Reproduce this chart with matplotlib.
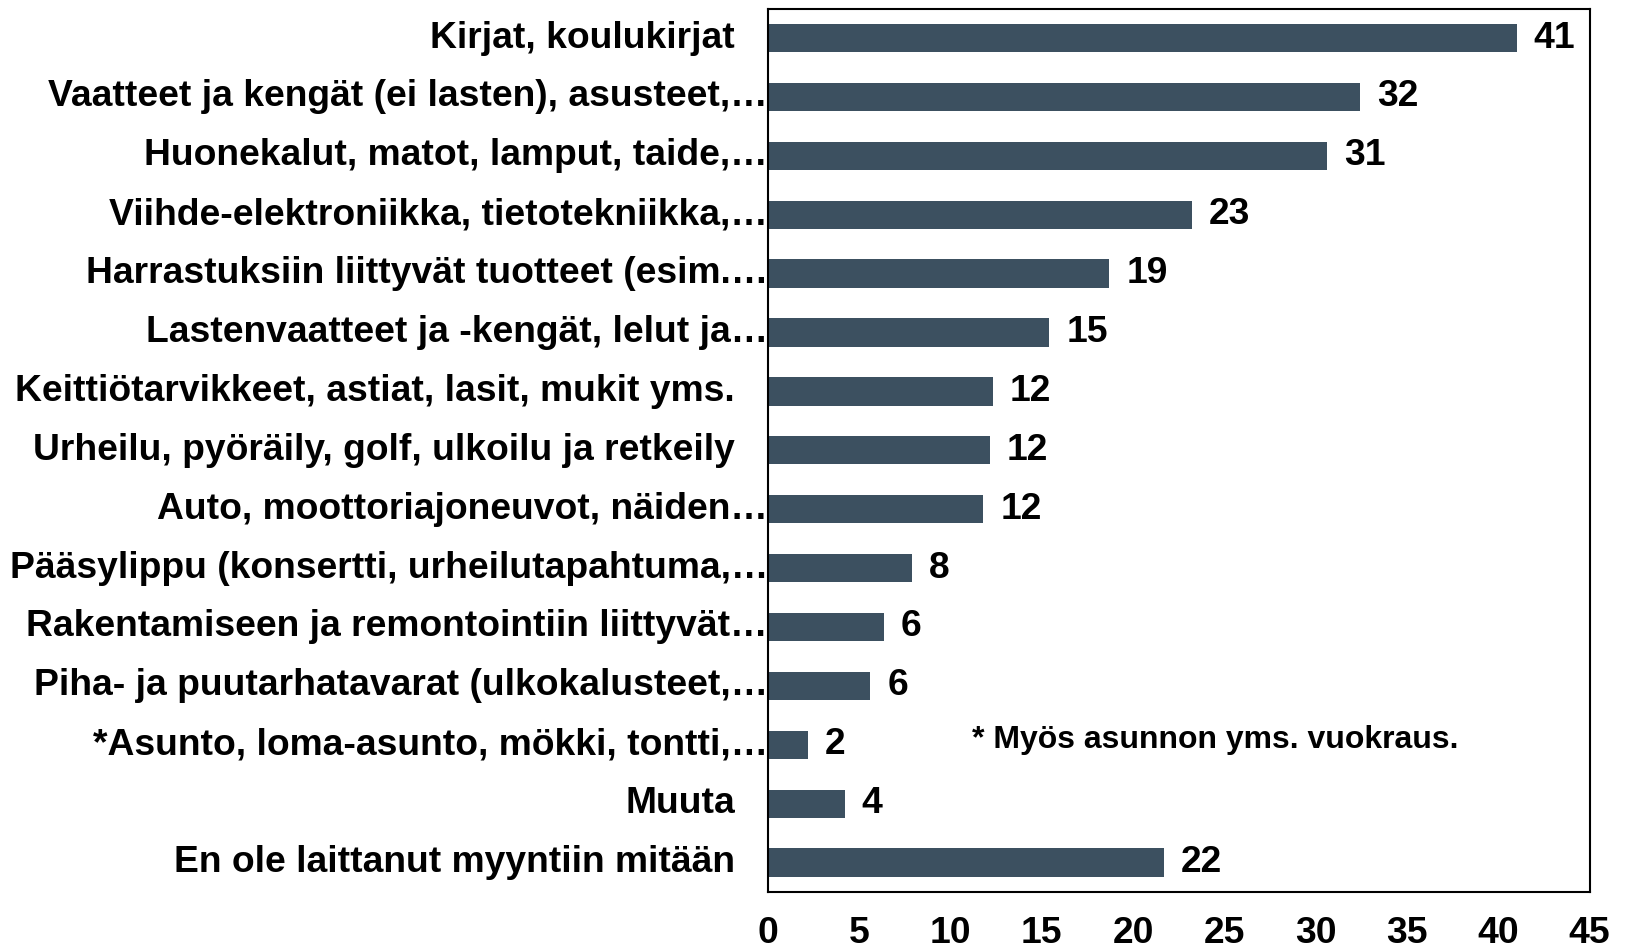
import numpy as np
import matplotlib.pyplot as plt

plt.rcParams['font.family'] = ['Liberation Sans', 'DejaVu Sans']

categories = [
    "Kirjat, koulukirjat",
    "Vaatteet ja kengät (ei lasten), asusteet,…",
    "Huonekalut, matot, lamput, taide,…",
    "Viihde-elektroniikka, tietotekniikka,…",
    "Harrastuksiin liittyvät tuotteet (esim.…",
    "Lastenvaatteet ja -kengät, lelut ja…",
    "Keittiötarvikkeet, astiat, lasit, mukit yms.",
    "Urheilu, pyöräily, golf, ulkoilu ja retkeily",
    "Auto, moottoriajoneuvot, näiden…",
    "Pääsylippu (konsertti, urheilutapahtuma,…",
    "Rakentamiseen ja remontointiin liittyvät…",
    "Piha- ja puutarhatavarat (ulkokalusteet,…",
    "*Asunto, loma-asunto, mökki, tontti,…",
    "Muuta",
    "En ole laittanut myyntiin mitään",
]
# shares in % (labels show them rounded)
values = [41.0, 32.45, 30.6, 23.2, 18.7, 15.4, 12.3, 12.15, 11.8,
          7.9, 6.35, 5.6, 2.2, 4.2, 21.7]
xticks = [0, 5, 10, 15, 20, 25, 30, 35, 40, 45]
footnote = "* Myös asunnon yms. vuokraus."

bar_col = '#3C5060'
fs = 26.8

fig = plt.figure(figsize=(16.27, 9.51), dpi=100)
ax = fig.add_axes([0.472, 0.062, 0.505, 0.929])

y = np.arange(len(categories))
ax.barh(y, values, height=0.48, color=bar_col)

ax.set_xlim(0, 45)
ax.set_ylim(len(categories) - 0.5, -0.5)
ax.set_xticks(xticks)
ax.set_xticklabels([str(t) for t in xticks], fontsize=fs, fontweight='bold')
ax.tick_params(axis='x', length=0, pad=17)
ax.set_yticks([])

for s in ax.spines.values():
    s.set_linewidth(1.5)
    s.set_color('black')

# category labels, the shortened ones hang out to the axis line
for yi, lab in zip(y, categories):
    off = 0 if lab.endswith('…') else -33
    ax.annotate(lab, xy=(0, yi), xycoords=ax.get_yaxis_transform(),
                xytext=(off, 0), textcoords='offset pixels',
                ha='right', va='center', fontsize=fs, fontweight='bold')

for yi, v in zip(y, values):
    ax.annotate(f"{v:.0f}", xy=(v, yi), xytext=(17, 0), textcoords='offset pixels',
                ha='left', va='center', fontsize=fs, fontweight='bold')

ax.text(11.2, 12 - 0.08, footnote, ha='left', va='center',
        fontsize=23, fontweight='bold')

fig.savefig('out.png', dpi=100)
